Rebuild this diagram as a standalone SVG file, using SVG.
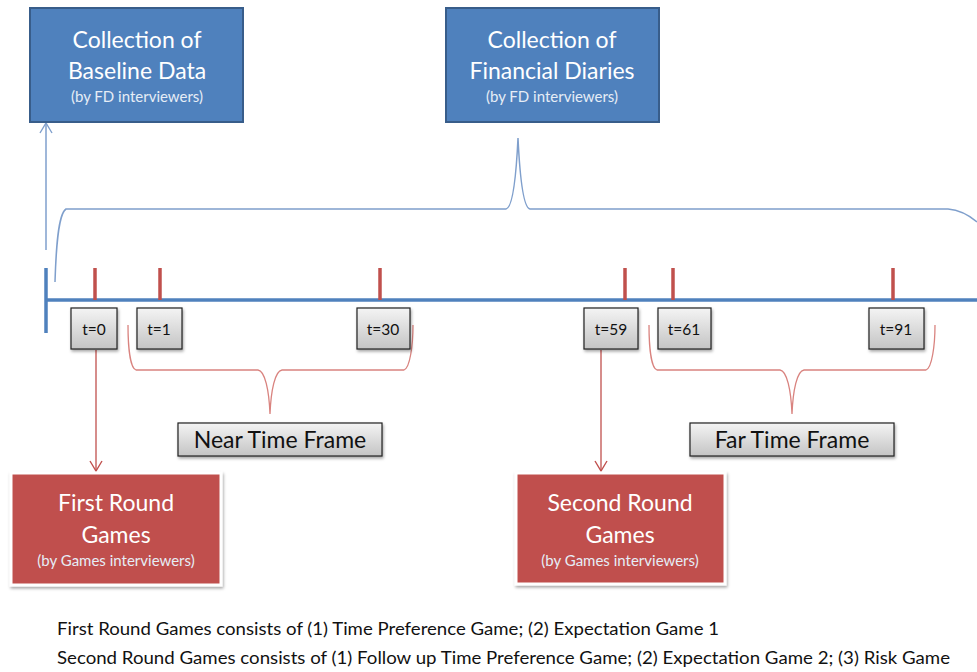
<svg xmlns="http://www.w3.org/2000/svg" width="977" height="672" viewBox="0 0 977 672">
<defs>
<linearGradient id="gray" x1="0" y1="0" x2="0" y2="1">
<stop offset="0" stop-color="#f4f4f4"/>
<stop offset="1" stop-color="#c4c4c4"/>
</linearGradient>
<filter id="sh" x="-10%" y="-10%" width="120%" height="130%">
<feDropShadow dx="1" dy="2" stdDeviation="1.5" flood-color="#000" flood-opacity="0.35"/>
</filter>
<marker id="openBlue" markerWidth="12" markerHeight="14" refX="11" refY="7" orient="auto" markerUnits="userSpaceOnUse" viewBox="0 0 12 14">
<path d="M1,1 L11,7 L1,13" fill="none" stroke="#7f9fcc" stroke-width="1.4"/>
</marker>
<marker id="openRed" markerWidth="12" markerHeight="14" refX="11" refY="7" orient="auto" markerUnits="userSpaceOnUse" viewBox="0 0 12 14">
<path d="M1,1 L11,7 L1,13" fill="none" stroke="#c0504d" stroke-width="1.4"/>
</marker>
</defs>
<style>
.blue{fill:#4f81bd;stroke:#385d8a;stroke-width:2}
.red{fill:#c0504d;stroke:#fff;stroke-width:3;filter:url(#sh)}
.lbl{fill:url(#gray);stroke:#222;stroke-width:1.2;filter:url(#sh)}
.t1{font-family:Lato,"Open Sans",sans-serif;fill:#fff;font-size:23px;text-anchor:middle}
.t2{font-family:Lato,"Open Sans",sans-serif;fill:#e6edf6;font-size:15px;text-anchor:middle}
.tl{font-family:Lato,"Open Sans",sans-serif;fill:#111;font-size:15.5px;text-anchor:middle}
.tf{font-family:Lato,"Open Sans",sans-serif;fill:#111;font-size:23px;text-anchor:middle}
.tick{stroke:#c0504d;stroke-width:3.5}
.foot{font-family:"Liberation Sans Narrow",Lato,sans-serif;fill:#111;font-size:17px}
</style>

<g id="timeline">
<line x1="46" y1="300" x2="977" y2="300" stroke="#4f81bd" stroke-width="3.5"/>
<line x1="46" y1="268" x2="46" y2="333" stroke="#4f81bd" stroke-width="3.5"/>
<line class="tick" x1="95" y1="268" x2="95" y2="300"/>
<line class="tick" x1="160" y1="268" x2="160" y2="300"/>
<line class="tick" x1="380" y1="268" x2="380" y2="300"/>
<line class="tick" x1="625" y1="268" x2="625" y2="300"/>
<line class="tick" x1="673" y1="268" x2="673" y2="300"/>
<line class="tick" x1="893" y1="268" x2="893" y2="300"/>
</g>

<g id="connectors" fill="none">
<line x1="46" y1="250" x2="46" y2="123" stroke="#7f9fcc" stroke-width="1.5" marker-end="url(#openBlue)"/>
<path d="M55,282 C56,250 58,214 66,209 L506,209 C512,208 516,180 518,138 C520,180 524,208 530,209 L948,209 C960,210 970,216 977,222" stroke="#7f9fcc" stroke-width="1.5"/>
<path d="M128,325 C128,345 130,368 136,370 L258,370 C265,371 269,390 270,414 C271,390 275,371 282,370 L404,370 C410,368 413,345 413,325" stroke="#d9837f" stroke-width="1.3"/>
<path d="M649,325 C649,345 651,368 657,370 L780,370 C787,371 791,390 792,414 C793,390 797,371 804,370 L926,370 C932,368 935,345 935,325" stroke="#d9837f" stroke-width="1.3"/>
<line x1="96" y1="350" x2="96" y2="471" stroke="#c0504d" stroke-width="1.3" marker-end="url(#openRed)"/>
<line x1="601" y1="350" x2="601" y2="471" stroke="#c0504d" stroke-width="1.3" marker-end="url(#openRed)"/>
</g>

<g id="baseline">
<rect class="blue" x="30" y="8" width="213" height="114"/>
<text class="t1" x="137" y="48">Collection of</text>
<text class="t1" x="137" y="79">Baseline Data</text>
<text class="t2" x="137" y="102">(by FD interviewers)</text>
</g>
<g id="diaries">
<rect class="blue" x="446" y="8" width="213" height="114"/>
<text class="t1" x="552" y="48">Collection of</text>
<text class="t1" x="552" y="79">Financial Diaries</text>
<text class="t2" x="552" y="102">(by FD interviewers)</text>
</g>

<g id="t0"><rect class="lbl" x="71" y="308" width="46" height="41"/><text class="tl" x="94" y="335">t=0</text></g>
<g id="t1"><rect class="lbl" x="137" y="308" width="45" height="41"/><text class="tl" x="159" y="335">t=1</text></g>
<g id="t30"><rect class="lbl" x="357" y="308" width="53" height="41"/><text class="tl" x="383" y="335">t=30</text></g>
<g id="t59"><rect class="lbl" x="584" y="308" width="54" height="41"/><text class="tl" x="611" y="335">t=59</text></g>
<g id="t61"><rect class="lbl" x="658" y="308" width="53" height="41"/><text class="tl" x="684" y="335">t=61</text></g>
<g id="t91"><rect class="lbl" x="869" y="308" width="55" height="41"/><text class="tl" x="896" y="335">t=91</text></g>

<g id="near"><rect class="lbl" x="178" y="423" width="204" height="33"/><text class="tf" x="280" y="448">Near Time Frame</text></g>
<g id="far"><rect class="lbl" x="690" y="423" width="204" height="33"/><text class="tf" x="792" y="448">Far Time Frame</text></g>

<g id="first">
<rect class="red" x="11" y="473" width="210" height="112"/>
<text class="t1" x="116" y="511">First Round</text>
<text class="t1" x="116" y="543">Games</text>
<text class="t2" x="116" y="566">(by Games interviewers)</text>
</g>
<g id="second">
<rect class="red" x="516" y="473" width="209" height="111"/>
<text class="t1" x="620" y="511">Second Round</text>
<text class="t1" x="620" y="543">Games</text>
<text class="t2" x="620" y="566">(by Games interviewers)</text>
</g>

<g id="notes">
<text class="foot" x="57" y="635" textLength="662" lengthAdjust="spacingAndGlyphs">First Round Games consists of (1) Time Preference Game; (2) Expectation Game 1</text>
<text class="foot" x="57" y="664" textLength="893" lengthAdjust="spacingAndGlyphs">Second Round Games consists of (1) Follow up Time Preference Game; (2) Expectation Game 2; (3) Risk Game</text>
</g>
</svg>
